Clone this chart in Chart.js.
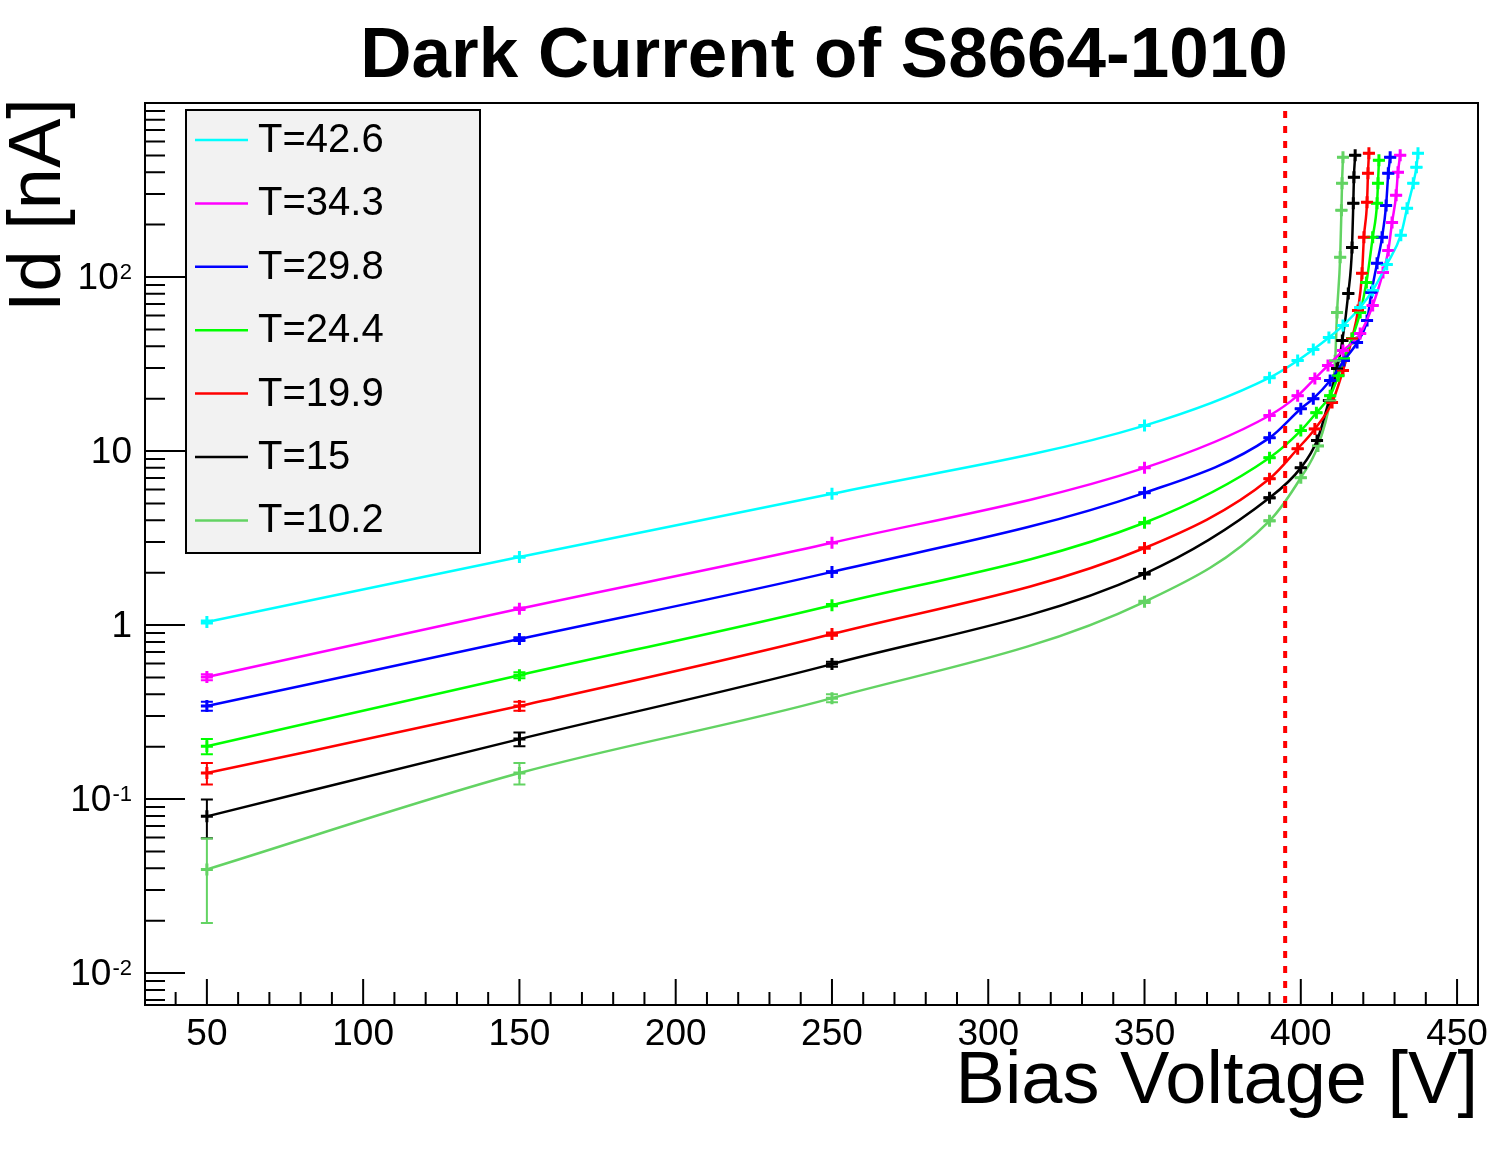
<!DOCTYPE html>
<html>
<head>
<meta charset="utf-8">
<title>Dark Current of S8664-1010</title>
<script src="https://cdn.jsdelivr.net/npm/chart.js@4.4.1/dist/chart.umd.min.js"></script>
<style>
  html, body { margin: 0; padding: 0; background: #fff; }
  #wrap { width: 1499px; height: 1166px; position: relative; }
</style>
</head>
<body>
<div id="wrap"><canvas id="myChart"></canvas></div>
<script>
// bias voltage [V] / dark current [nA], one pair of arrays per temperature
const volt426 = [50, 150, 250, 350, 390, 399, 404, 409, 413.5, 419, 423, 427.5, 432, 434, 436, 437, 437.5];
const curr426 = [1.04, 2.46, 5.68, 14.0, 26.4, 33.1, 38.3, 44.9, 52.6, 66.8, 83.7, 118, 174, 248, 346, 428, 515];

const volt343 = [50, 150, 250, 350, 390, 399, 404.5, 408.7, 413.5, 419, 423, 426.3, 428, 429.2, 430.5, 431.1, 431.8];
const curr343 = [0.502, 1.24, 2.97, 8.0, 16.0, 20.8, 26.1, 31.0, 37.8, 47.3, 68.6, 106, 142, 206, 295, 400, 501];

const volt298 = [50, 150, 250, 350, 390, 400, 404, 409.4, 413.8, 418, 421.2, 422.6, 424.4, 426, 427.3, 428, 428.6];
const curr298 = [0.342, 0.83, 2.02, 5.75, 11.9, 17.5, 20.0, 25.4, 33.1, 42.0, 56.3, 81.5, 120, 169, 258, 395, 488];

const volt244 = [50, 150, 250, 350, 390, 400, 405, 409.4, 412, 413.8, 416.4, 419, 421, 423, 424.4, 424.7, 425];
const curr244 = [0.201, 0.515, 1.30, 3.87, 9.15, 13.1, 16.6, 20.8, 27.1, 34.0, 44.3, 62.5, 93.1, 169, 265, 346, 469];

const volt199 = [50, 150, 250, 350, 390, 399, 404.5, 410, 413.5, 416.4, 418.3, 419.6, 420.2, 421.2, 421.5, 421.8];
const curr199 = [0.141, 0.342, 0.887, 2.77, 6.93, 10.3, 13.4, 19.0, 29.0, 44.3, 64.2, 105, 169, 269, 395, 515];

const volt150 = [50, 150, 250, 350, 390, 400, 405.2, 409, 411.6, 413.3, 415.2, 416.4, 416.8, 417, 417.4];
const curr150 = [0.0795, 0.221, 0.596, 1.97, 5.38, 8.0, 11.5, 19.5, 29.8, 43.1, 80.5, 148, 265, 374, 501];

const volt102 = [50, 150, 250, 350, 390, 400, 405.5, 409.4, 411, 411.6, 412.6, 413, 413.2, 413.5];
const curr102 = [0.0394, 0.141, 0.380, 1.36, 3.97, 7.02, 10.7, 19.5, 33, 62.5, 130, 242, 346, 488];

const temps = ['T=42.6', 'T=34.3', 'T=29.8', 'T=24.4', 'T=19.9', 'T=15', 'T=10.2'];
const colors = ['#00ffff', '#ff00ff', '#0000ff', '#00ff00', '#ff0000', '#000000', '#63d363'];
const currentErr = 0.02;   // nA
const breakdownV = 395;    // dashed marker

const xMajor = [50, 100, 150, 200, 250, 300, 350, 400, 450];
const yMajor = [0.01, 0.1, 1, 10, 100];
const yBase = ['10', '10', '1', '10', '10'];
const yExpo = ['-2', '-1', '', '', '2'];

const chartFont = '"Liberation Sans", Arial, Helvetica, sans-serif';

const series = [
  [volt426, curr426], [volt343, curr343], [volt298, curr298], [volt244, curr244],
  [volt199, curr199], [volt150, curr150], [volt102, curr102]
];

const datasets = series.map(function(s, i) {
  return {
    label: temps[i],
    data: s[0].map(function(v, k) { return {x: v, y: s[1][k]}; }),
    borderColor: colors[i],
    backgroundColor: colors[i],
    borderWidth: 2.5,
    pointStyle: 'cross',
    pointRadius: 6,
    pointBorderWidth: 3,
    cubicInterpolationMode: 'monotone',
    fill: false
  };
});

const rootLook = {
  id: 'rootLook',
  afterDatasetsDraw(chart) {
    const ctx = chart.ctx, a = chart.chartArea, x = chart.scales.x, y = chart.scales.y;
    ctx.save();
    ctx.beginPath();
    ctx.rect(a.left, a.top, a.right - a.left, a.bottom - a.top);
    ctx.clip();
    // vertical error bars
    chart.data.datasets.forEach(function(ds) {
      ctx.strokeStyle = ds.borderColor;
      ctx.lineWidth = 2;
      ds.data.forEach(function(p) {
        const px = x.getPixelForValue(p.x);
        const hi = y.getPixelForValue(p.y + currentErr);
        const lo = (p.y - currentErr) > 0 ? y.getPixelForValue(p.y - currentErr) : a.bottom;
        ctx.beginPath();
        ctx.moveTo(px, hi); ctx.lineTo(px, lo);
        ctx.moveTo(px - 6, hi); ctx.lineTo(px + 6, hi);
        ctx.moveTo(px - 6, lo); ctx.lineTo(px + 6, lo);
        ctx.stroke();
      });
    });
    // red dashed line
    const bx = x.getPixelForValue(breakdownV);
    ctx.strokeStyle = '#ff0000';
    ctx.lineWidth = 4;
    ctx.setLineDash([7, 8]);
    ctx.beginPath();
    ctx.moveTo(bx, a.top + 8);
    ctx.lineTo(bx, a.bottom);
    ctx.stroke();
    ctx.restore();
  },
  afterDraw(chart) {
    const ctx = chart.ctx, a = chart.chartArea, x = chart.scales.x, y = chart.scales.y;
    ctx.save();
    ctx.strokeStyle = '#000';
    ctx.fillStyle = '#000';
    ctx.lineWidth = 2;
    ctx.strokeRect(a.left, a.top, a.right - a.left, a.bottom - a.top);

    // x ticks (inside, bottom)
    ctx.beginPath();
    for (let v = 10; v <= 460; v += 10) {
      if (v < x.min || v > x.max) continue;
      const px = x.getPixelForValue(v);
      const len = (v % 50 === 0) ? 26 : 13;
      ctx.moveTo(px, a.bottom); ctx.lineTo(px, a.bottom - len);
    }
    // y ticks (inside, left), log
    for (let e = -3; e <= 3; e++) {
      for (let k = 1; k <= 9; k++) {
        const v = k * Math.pow(10, e);
        if (v < y.min || v > y.max * 0.999) continue;
        const py = y.getPixelForValue(v);
        const len = (k === 1) ? 40 : 20;
        ctx.moveTo(a.left, py); ctx.lineTo(a.left + len, py);
      }
    }
    ctx.stroke();

    // tick labels
    ctx.font = '37px ' + chartFont;
    ctx.textAlign = 'center';
    ctx.textBaseline = 'alphabetic';
    xMajor.forEach(function(v) {
      ctx.fillText(String(v), x.getPixelForValue(v), 1045);
    });
    yMajor.forEach(function(v, i) {
      const py = y.getPixelForValue(v);
      let right = 132;
      if (yExpo[i]) {
        ctx.font = '22px ' + chartFont;
        ctx.textAlign = 'right';
        ctx.textBaseline = 'alphabetic';
        ctx.fillText(yExpo[i], right, py + 2);
        right -= ctx.measureText(yExpo[i]).width + 1;
      }
      ctx.font = '37px ' + chartFont;
      ctx.textAlign = 'right';
      ctx.textBaseline = 'middle';
      ctx.fillText(yBase[i], right, py + 2);
    });

    // titles
    ctx.textBaseline = 'alphabetic';
    ctx.font = 'bold 71px ' + chartFont;
    ctx.textAlign = 'center';
    ctx.fillText('Dark Current of S8664-1010', 824, 77);
    ctx.font = '74px ' + chartFont;
    ctx.textAlign = 'right';
    ctx.fillText('Bias Voltage [V]', a.right, 1103);
    ctx.save();
    ctx.translate(60, 312);
    ctx.rotate(-Math.PI / 2);
    ctx.textAlign = 'left';
    ctx.fillText('Id [nA]', 0, 0);
    ctx.restore();

    // legend box
    ctx.fillStyle = '#f2f2f2';
    ctx.fillRect(186, 110, 294, 443);
    ctx.strokeStyle = '#000';
    ctx.lineWidth = 2;
    ctx.strokeRect(186, 110, 294, 443);
    ctx.font = '40px ' + chartFont;
    ctx.textAlign = 'left';
    ctx.textBaseline = 'middle';
    temps.forEach(function(t, i) {
      const ry = 140 + i * 63.4;
      ctx.strokeStyle = colors[i];
      ctx.lineWidth = 2.5;
      ctx.beginPath();
      ctx.moveTo(195, ry); ctx.lineTo(248, ry);
      ctx.stroke();
      ctx.fillStyle = '#000';
      ctx.fillText(t, 258, ry + 1);
    });
    ctx.restore();
  }
};

const config = {
  type: 'line',
  data: { datasets: datasets },
  options: {
    responsive: true,
    maintainAspectRatio: false,
    animation: false,
    layout: { padding: { left: 145, top: 103, right: 21, bottom: 161 } },
    plugins: { legend: { display: false }, title: { display: false }, tooltip: { enabled: false } },
    scales: {
      x: { type: 'linear', min: 30.2, max: 456.7, display: false },
      y: { type: 'logarithmic', min: 0.00655, max: 1000, display: false }
    }
  },
  plugins: [rootLook]
};

document.addEventListener('DOMContentLoaded', function() {
  new Chart(document.getElementById('myChart'), config);
});
</script>
</body>
</html>
